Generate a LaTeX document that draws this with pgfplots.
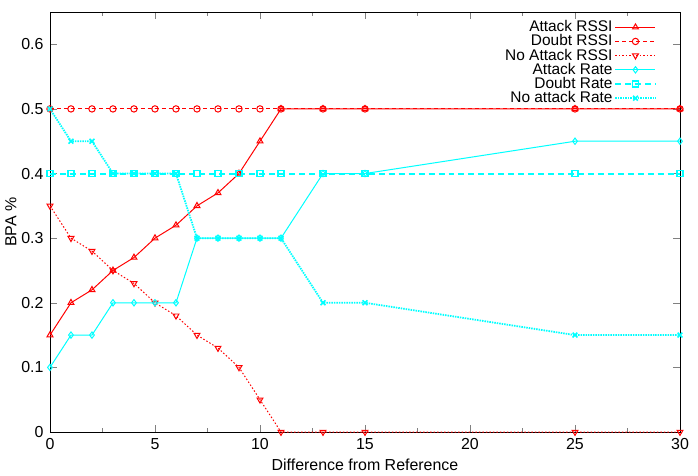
\documentclass[border=0pt]{standalone}
\usepackage{pgfplots}
\pgfplotsset{compat=1.18}
\usepackage{fontspec}
\setmainfont{Liberation Sans}
\definecolor{gred}{RGB}{255,0,0}
\definecolor{gcyan}{RGB}{0,255,255}
\begin{document}
\fontsize{16}{18}\selectfont
\begin{tikzpicture}
\begin{axis}[
  scale only axis,
  width=630bp, height=420bp,
  xmin=0, xmax=30, ymin=0, ymax=0.65,
  xtick={0,5,...,30},
  ytick={0,0.1,...,0.6},
  minor x tick num=1,
  tick align=inside,
  tick pos=both,
  major tick length=7pt,
  minor tick length=4pt,
  /pgf/number format/assume math mode=true,
  yticklabel style={/pgf/number format/fixed,/pgf/number format/precision=1, xshift=-1pt},
  xticklabel style={yshift=-1pt},
  scaled y ticks=false,
  xlabel={Difference from Reference},
  ylabel={BPA \%},
  xlabel style={yshift=2pt},
  ylabel style={yshift=-6pt},
  every axis plot/.append style={line width=1pt},
  legend style={draw=none, fill=none, at={(0.963,0.985)}, anchor=north east,
    legend cell align=right, row sep=-3.4pt, inner sep=0pt, font=\fontsize{15.5}{15.5}\selectfont},
  legend plot pos=right,
  legend image code/.code={
    \draw[#1, mark=none] (0bp,0bp) -- (40bp,0bp);
    \draw[#1, only marks] plot coordinates {(20bp,0bp)};
  },
]
\addplot[draw=gred, color=gred, solid, mark=triangle, mark size=3.4pt, mark options={solid, draw=gred}] coordinates {
 (0,0.15) (1,0.20) (2,0.22) (3,0.25) (4,0.27) (5,0.30) (6,0.32) (7,0.35) (8,0.37) (9,0.40) (10,0.45) (11,0.5) (13,0.5) (15,0.5) (25,0.5) (30,0.5)};
\addlegendentry{Attack RSSI}
\addplot[draw=gred, color=gred, dash pattern=on 4pt off 3pt, mark=o, mark size=3.2pt, mark options={solid, draw=gred}] coordinates {
 (0,0.5) (1,0.5) (2,0.5) (3,0.5) (4,0.5) (5,0.5) (6,0.5) (7,0.5) (8,0.5) (9,0.5) (10,0.5) (11,0.5) (13,0.5) (15,0.5) (25,0.5) (30,0.5)};
\addlegendentry{Doubt RSSI}
\addplot[draw=gred, color=gred, dash pattern=on 1.5pt off 2pt, mark=triangle, mark size=3.4pt, mark options={solid, rotate=180, draw=gred}] coordinates {
 (0,0.35) (1,0.30) (2,0.28) (3,0.25) (4,0.23) (5,0.20) (6,0.18) (7,0.15) (8,0.13) (9,0.10) (10,0.05) (11,0) (13,0) (15,0) (25,0) (30,0)};
\addlegendentry{No Attack RSSI}
\addplot[draw=gcyan, color=gcyan, solid, mark=diamond, mark size=3.2pt, mark options={solid, draw=gcyan}] coordinates {
 (0,0.10) (1,0.15) (2,0.15) (3,0.20) (4,0.20) (5,0.20) (6,0.20) (7,0.30) (8,0.30) (9,0.30) (10,0.30) (11,0.30) (13,0.40) (15,0.40) (25,0.45) (30,0.45)};
\addlegendentry{Attack Rate}
\addplot[draw=gcyan, color=gcyan, dash pattern=on 6pt off 4pt, line width=2pt, mark=square, mark size=3pt, mark options={solid, line width=1.2pt, draw=gcyan}] coordinates {
 (0,0.4) (1,0.4) (2,0.4) (3,0.4) (4,0.4) (5,0.4) (6,0.4) (7,0.4) (8,0.4) (9,0.4) (10,0.4) (11,0.4) (13,0.4) (15,0.4) (25,0.4) (30,0.4)};
\addlegendentry{Doubt Rate}
\addplot[draw=gcyan, color=gcyan, dash pattern=on 1.5pt off 1pt, line width=1.8pt, mark=x, mark size=3.4pt, mark options={solid, line width=1.6pt, draw=gcyan}] coordinates {
 (0,0.5) (1,0.45) (2,0.45) (3,0.40) (4,0.40) (5,0.40) (6,0.40) (7,0.30) (8,0.30) (9,0.30) (10,0.30) (11,0.30) (13,0.20) (15,0.20) (25,0.15) (30,0.15)};
\addlegendentry{No attack Rate}
\end{axis}
\path ([shift={(18bp,12bp)}]current axis.north east);
\end{tikzpicture}
\end{document}
